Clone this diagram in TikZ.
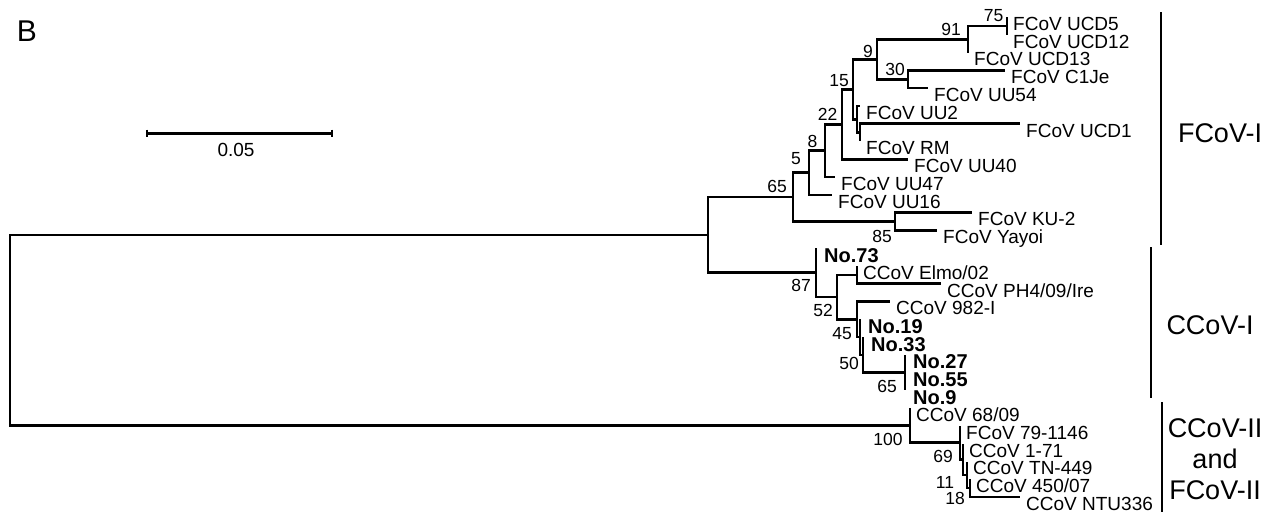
\documentclass[tikz,border=0pt]{standalone}
\usepackage{fontspec}
\setmainfont{Liberation Sans}

\begin{document}
\begin{tikzpicture}[x=1pt, y=-1pt,
    branch/.style={line width=2.6pt},
    leaf/.style={anchor=base west, inner sep=0pt, xshift=6pt, yshift=-13.3pt, font=\fontsize{19}{21}\selectfont},
    bleaf/.style={anchor=base west, inner sep=0pt, xshift=8pt, yshift=-14pt, font=\fontsize{20}{22}\selectfont\bfseries},
    boot/.style={inner sep=0pt, font=\fontsize{17.5}{19}\selectfont},
    clade/.style={inner sep=0pt, align=center, font=\fontsize{27}{31}\selectfont}]
    \useasboundingbox (0,0) rectangle (1271,515);

    % internal nodes
    \coordinate (root) at (10,330.1);
    \coordinate (nI) at (708,234.8);
    \coordinate (nII) at (910,425.4);
    \coordinate (n65) at (793,197.1);
    \coordinate (n87) at (816,272.6);
    \coordinate (n5) at (809,172.7);
    \coordinate (n85) at (895,221.5);
    \coordinate (n8) at (825,150.6);
    \coordinate (n22) at (842,124.2);
    \coordinate (n15) at (853,89.2);
    \coordinate (n9) at (877,59.2);
    \coordinate (n91) at (968,39.2);
    \coordinate (n75) at (1007,25.9);
    \coordinate (n30) at (908,79.2);
    \coordinate (na) at (857,119.2);
    \coordinate (nb) at (860,132.6);
    \coordinate (n52) at (837,297.0);
    \coordinate (nelmo) at (857,274.8);
    \coordinate (nx) at (857,319.3);
    \coordinate (n45) at (860,337.0);
    \coordinate (n50) at (863,354.8);
    \coordinate (n65b) at (905,372.6);
    \coordinate (n69) at (960,442.6);
    \coordinate (nb71) at (963,459.3);
    \coordinate (n11) at (967,474.8);
    \coordinate (n18) at (970,488.1);

    % leaves
    \coordinate (ucd5) at (1007,17.0);
    \coordinate (ucd12) at (1007,34.8);
    \coordinate (ucd13) at (968,52.6);
    \coordinate (c1je) at (1005,70.3);
    \coordinate (uu54) at (928,88.1);
    \coordinate (uu2) at (860,105.9);
    \coordinate (ucd1) at (1020,123.7);
    \coordinate (rm) at (860,141.4);
    \coordinate (uu40) at (908,159.2);
    \coordinate (uu47) at (835,177.0);
    \coordinate (uu16) at (832,194.8);
    \coordinate (ku2) at (972,212.6);
    \coordinate (yayoi) at (937,230.4);
    \coordinate (no73) at (816,248.1);
    \coordinate (elmo) at (857,265.9);
    \coordinate (ph4) at (941,283.7);
    \coordinate (c982) at (890,301.5);
    \coordinate (no19) at (860,319.3);
    \coordinate (no33) at (863,337.0);
    \coordinate (no27) at (905,354.8);
    \coordinate (no55) at (905,372.6);
    \coordinate (no9) at (905,390.4);
    \coordinate (c6809) at (910,408.2);
    \coordinate (f791146) at (960,425.9);
    \coordinate (c171) at (963,443.7);
    \coordinate (tn449) at (967,461.5);
    \coordinate (c45007) at (970,479.3);
    \coordinate (ntu336) at (1020,497.0);

    % branches
    \draw[branch] (root) |- (nI) (root) |- (nII);
    \draw[branch] (nI) |- (n65) (nI) |- (n87);
    \draw[branch] (n65) |- (n5) (n65) |- (n85);
    \draw[branch] (n5) |- (n8) (n5) |- (uu16);
    \draw[branch] (n8) |- (n22) (n8) |- (uu47);
    \draw[branch] (n22) |- (n15) (n22) |- (uu40);
    \draw[branch] (n15) |- (n9) (n15) |- (na);
    \draw[branch] (n9) |- (n91) (n9) |- (n30);
    \draw[branch] (n91) |- (n75) (n91) |- (ucd13);
    \draw[branch] (n75) |- (ucd5) (n75) |- (ucd12);
    \draw[branch] (n30) |- (c1je) (n30) |- (uu54);
    \draw[branch] (na) |- (uu2) (na) |- (nb);
    \draw[branch] (nb) |- (ucd1) (nb) |- (rm);
    \draw[branch] (n85) |- (ku2) (n85) |- (yayoi);
    \draw[branch] (n87) |- (no73) (n87) |- (n52);
    \draw[branch] (n52) |- (nelmo) (n52) |- (nx);
    \draw[branch] (nelmo) |- (elmo) (nelmo) |- (ph4);
    \draw[branch] (nx) |- (c982) (nx) |- (n45);
    \draw[branch] (n45) |- (no19) (n45) |- (n50);
    \draw[branch] (n50) |- (no33) (n50) |- (n65b);
    \draw[branch] (n65b) |- (no27) (n65b) |- (no9);
    \draw[branch] (nII) |- (c6809) (nII) |- (n69);
    \draw[branch] (n69) |- (f791146) (n69) |- (nb71);
    \draw[branch] (nb71) |- (c171) (nb71) |- (n11);
    \draw[branch] (n11) |- (tn449) (n11) |- (n18);
    \draw[branch] (n18) |- (c45007) (n18) |- (ntu336);

    % taxa
    \node[leaf] (t_ucd5) at (ucd5) {FCoV UCD5};
    \node[leaf] (t_ucd12) at (ucd12) {FCoV UCD12};
    \node[leaf] (t_ucd13) at (ucd13) {FCoV UCD13};
    \node[leaf] (t_c1je) at (c1je) {FCoV C1Je};
    \node[leaf] (t_uu54) at (uu54) {FCoV UU54};
    \node[leaf] (t_uu2) at (uu2) {FCoV UU2};
    \node[leaf] (t_ucd1) at (ucd1) {FCoV UCD1};
    \node[leaf] (t_rm) at (rm) {FCoV RM};
    \node[leaf] (t_uu40) at (uu40) {FCoV UU40};
    \node[leaf] (t_uu47) at (uu47) {FCoV UU47};
    \node[leaf] (t_uu16) at (uu16) {FCoV UU16};
    \node[leaf] (t_ku2) at (ku2) {FCoV KU-2};
    \node[leaf] (t_yayoi) at (yayoi) {FCoV Yayoi};
    \node[bleaf] (t_no73) at (no73) {No.73};
    \node[leaf] (t_elmo) at (elmo) {CCoV Elmo/02};
    \node[leaf] (t_ph4) at (ph4) {CCoV PH4/09/Ire};
    \node[leaf] (t_c982) at (c982) {CCoV 982-I};
    \node[bleaf] (t_no19) at (no19) {No.19};
    \node[bleaf] (t_no33) at (no33) {No.33};
    \node[bleaf] (t_no27) at (no27) {No.27};
    \node[bleaf] (t_no55) at (no55) {No.55};
    \node[bleaf] (t_no9) at (no9) {No.9};
    \node[leaf] (t_c6809) at (c6809) {CCoV 68/09};
    \node[leaf] (t_f791146) at (f791146) {FCoV 79-1146};
    \node[leaf] (t_c171) at (c171) {CCoV 1-71};
    \node[leaf] (t_tn449) at (tn449) {CCoV TN-449};
    \node[leaf] (t_c45007) at (c45007) {CCoV 450/07};
    \node[leaf] (t_ntu336) at (ntu336) {CCoV NTU336};

    % bootstrap values
    \node[boot] (b75) at (993.5,16) {75};
    \node[boot] (b91) at (951,29.5) {91};
    \node[boot] (b9) at (868,51) {9};
    \node[boot] (b30) at (895,69) {30};
    \node[boot] (b15) at (839,81) {15};
    \node[boot] (b22) at (827.5,114) {22};
    \node[boot] (b8) at (812.5,141) {8};
    \node[boot] (b5) at (796,159) {5};
    \node[boot] (b65) at (777,186.5) {65};
    \node[boot] (b85) at (882,236.5) {85};
    \node[boot] (b87) at (801,285) {87};
    \node[boot] (b52) at (823,310) {52};
    \node[boot] (b45) at (842,333.5) {45};
    \node[boot] (b50) at (849,363.5) {50};
    \node[boot] (b65b) at (887,386.5) {65};
    \node[boot] (b100) at (888,439) {100};
    \node[boot] (b69) at (943,456) {69};
    \node[boot] (b11) at (945,482.5) {11};
    \node[boot] (b18) at (955,498) {18};

    % groups
    \draw[branch] (1161,12) -- (1161,245);
    \draw[branch] (1151,247) -- (1151,398);
    \draw[branch] (1162,402) -- (1162,512);
    \node[clade] (g_fcovi) at (1220,133) {FCoV-I};
    \node[clade] (g_ccovi) at (1210,325) {CCoV-I};
    \node[clade] (g_ii) at (1215,459) {CCoV-II\\and\\FCoV-II};

    % scale bar and panel letter
    \draw[branch] (147,133.3) -- (331.7,133.3);
    \draw[line width=2pt] (147,129.5) -- (147,137.1) (331.7,129.5) -- (331.7,137.1);
    \node[inner sep=0pt, font=\fontsize{19}{21}\selectfont] (scale) at (236,150) {0.05};
    \node[inner sep=0pt, font=\fontsize{30}{32}\selectfont] (panel) at (27,31) {B};
\end{tikzpicture}
\end{document}
